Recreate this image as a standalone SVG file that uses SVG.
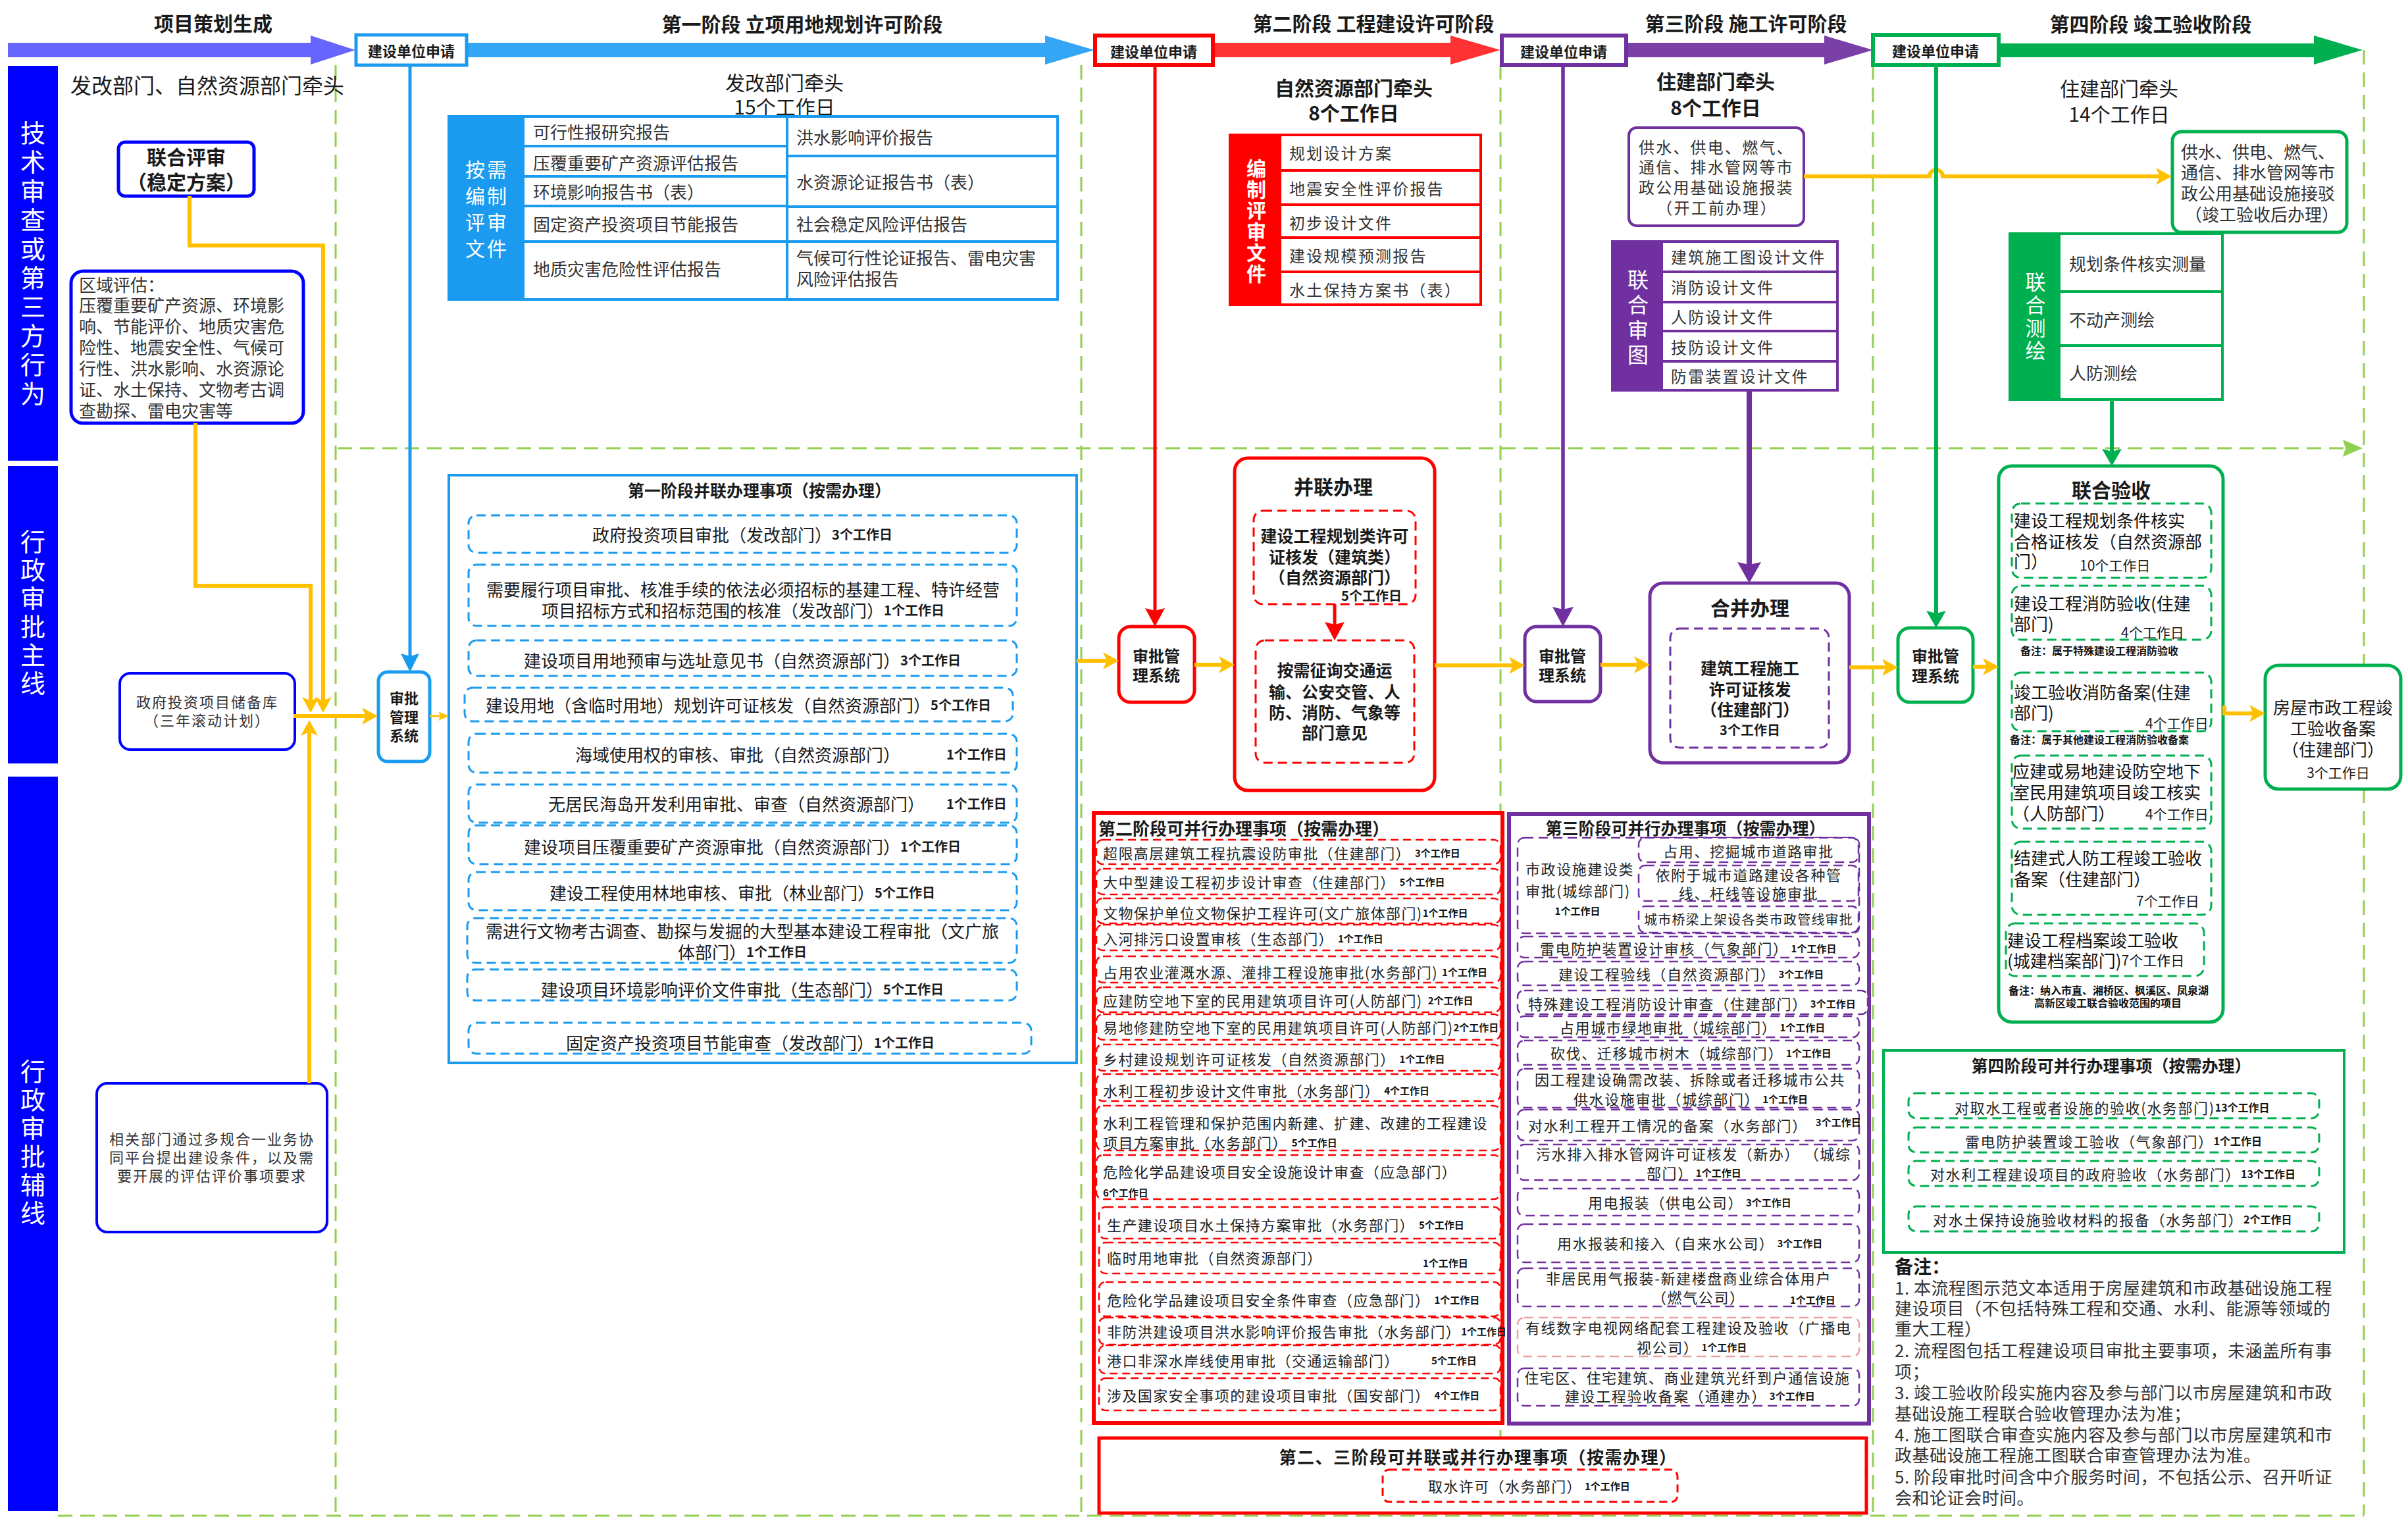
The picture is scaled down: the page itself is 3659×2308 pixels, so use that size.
<svg xmlns="http://www.w3.org/2000/svg" width="3659" height="2308" viewBox="0 0 3659 2308">
<style>
text{font-family:"Noto Sans CJK SC","Noto Sans",sans-serif;dominant-baseline:central;fill:#1a1a1a}
.c{text-anchor:middle}
.hb{font-size:30px;font-weight:700}
.hn{font-size:30px}
.vt{fill:#fff;text-anchor:start;writing-mode:vertical-rl;text-orientation:upright}
.band{font-size:38px}
.wl{fill:#fff;text-anchor:middle}
.lane{fill:none;stroke:#92D050;stroke-width:3;stroke-dasharray:22 12}
.or{fill:none;stroke:#FFC000;stroke-width:6}
.i1{font-size:26px;fill:#1a1a1a}
.d1{font-size:20px;font-weight:700}
.i2{font-size:22px;letter-spacing:1.4px;fill:#222}
.i3{font-size:22px;letter-spacing:1.6px;fill:#222}
.ds{font-size:15px;font-weight:700;letter-spacing:0;fill:#111}
.dm{font-size:16px;font-weight:700;letter-spacing:0;fill:#111}
.tb{font-size:26px;fill:#333}
.tr{font-size:24px;letter-spacing:2.2px;fill:#333}
.ttl{font-size:25px;font-weight:700}
.app{font-size:22px;font-weight:700}
.bl{stroke:#1A9BF0}
.rd{stroke:#FF0000}
.pu{stroke:#7030A0}
.gr{stroke:#00B050}
.dash1{fill:#fff;stroke:#1A9BF0;stroke-width:3;stroke-dasharray:14 8}
.dash2{fill:#fff;stroke:#FF0000;stroke-width:2.5;stroke-dasharray:12 7}
.dash3{fill:#fff;stroke:#7030A0;stroke-width:2.5;stroke-dasharray:14 8}
.dash4{fill:#fff;stroke:#00B050;stroke-width:3;stroke-dasharray:14 8}
.note{font-size:26px;fill:#333;letter-spacing:0.5px}
</style>
<defs>
<marker id="mo" markerUnits="userSpaceOnUse" markerWidth="24" markerHeight="26" refX="16" refY="13" orient="auto"><path d="M0,0 L24,13 L0,26 L6,13 z" fill="#FFC000"/></marker>
<marker id="mos" markerUnits="userSpaceOnUse" markerWidth="16" markerHeight="14" refX="10" refY="7" orient="auto"><path d="M0,0 L16,7 L0,14 L4,7 z" fill="#FFC000"/></marker>
<marker id="mr" markerUnits="userSpaceOnUse" markerWidth="28" markerHeight="30" refX="18" refY="15" orient="auto"><path d="M0,0 L28,15 L0,30 L4,15 z" fill="#FF0000"/></marker>
<marker id="mp" markerUnits="userSpaceOnUse" markerWidth="30" markerHeight="32" refX="20" refY="16" orient="auto"><path d="M0,0 L30,16 L0,32 L4,16 z" fill="#7030A0"/></marker>
<marker id="mpb" markerUnits="userSpaceOnUse" markerWidth="32" markerHeight="36" refX="20" refY="18" orient="auto"><path d="M0,0 L32,18 L0,36 L4,18 z" fill="#7030A0"/></marker>
<marker id="mg" markerUnits="userSpaceOnUse" markerWidth="26" markerHeight="30" refX="16" refY="15" orient="auto"><path d="M0,0 L26,15 L0,30 L4,15 z" fill="#00B050"/></marker>
<marker id="mb" markerUnits="userSpaceOnUse" markerWidth="28" markerHeight="28" refX="18" refY="14" orient="auto"><path d="M0,0 L28,14 L0,28 L4,14 z" fill="#1A9BF0"/></marker>
<marker id="mlg" markerUnits="userSpaceOnUse" markerWidth="30" markerHeight="26" refX="20" refY="13" orient="auto"><path d="M0,0 L30,13 L0,26 L4,13 z" fill="#92D050"/></marker>
</defs>
<rect x="0" y="0" width="3659" height="2308" fill="#fff"/>

<g id="lanes">
<line class="lane" x1="510" y1="99" x2="510" y2="2302"/>
<line class="lane" x1="1643" y1="99" x2="1643" y2="2302"/>
<line class="lane" x1="2280" y1="99" x2="2280" y2="2302"/>
<line class="lane" x1="2846" y1="99" x2="2846" y2="2302"/>
<line class="lane" x1="3592" y1="76" x2="3592" y2="2302"/>
<line class="lane" x1="88" y1="2303" x2="3592" y2="2303"/>
<line class="lane" x1="513" y1="681" x2="3580" y2="681" marker-end="url(#mlg)"/>
</g>

<g id="bands">
<rect x="12" y="100" width="76" height="600" fill="#0000FF"/>
<rect x="12" y="708" width="76" height="452" fill="#0000FF"/>
<rect x="12" y="1180" width="76" height="1116" fill="#0000FF"/>
<text class="vt band" writing-mode="vertical-rl" x="50" y="183" style="letter-spacing:6px">技术审查或第三方行为</text>
<text class="vt band" writing-mode="vertical-rl" x="50" y="804" style="letter-spacing:5px">行政审批主线</text>
<text class="vt band" writing-mode="vertical-rl" x="50" y="1609" style="letter-spacing:5px">行政审批辅线</text>
</g>

<g id="header">
<polygon points="12,65 472,65 472,54 540,76 472,98 472,87 12,87" fill="#6666FF"/>
<text class="hb c" x="324" y="34">项目策划生成</text>
<polygon points="709,65 1588,65 1588,54 1663,76 1588,98 1588,87 709,87" fill="#35A6F5"/>
<text class="hb c" x="1219" y="35">第一阶段  立项用地规划许可阶段</text>
<polygon points="1843,65 2204,65 2204,54 2280,76 2204,98 2204,87 1843,87" fill="#FF3333"/>
<text class="hb c" x="2087" y="34">第二阶段  工程建设许可阶段</text>
<polygon points="2471,65 2772,65 2772,54 2846,76 2772,98 2772,87 2471,87" fill="#7B3FA8"/>
<text class="hb c" x="2653" y="34">第三阶段  施工许可阶段</text>
<polygon points="3037,66 3516,66 3516,54 3590,76 3516,98 3516,87 3037,87" fill="#00B050"/>
<text class="hb c" x="3268" y="35">第四阶段  竣工验收阶段</text>
</g>

<g id="apply1"><rect x="541" y="53" width="168" height="46" fill="#fff" class="bl" stroke-width="5"/><text class="app c" x="625" y="76">建设单位申请</text></g>
<g id="apply2"><rect x="1664" y="54" width="179" height="45" fill="#fff" class="rd" stroke-width="6"/><text class="app c" x="1753" y="77">建设单位申请</text></g>
<g id="apply3"><rect x="2282" y="54" width="189" height="45" fill="#fff" class="pu" stroke-width="6"/><text class="app c" x="2376" y="77">建设单位申请</text></g>
<g id="apply4"><rect x="2846" y="53" width="191" height="46" fill="#fff" class="gr" stroke-width="6"/><text class="app c" x="2941" y="76">建设单位申请</text></g>

<g id="lead0"><text x="107" y="128" style="font-size:32px">发改部门、自然资源部门牵头</text></g>
<g id="lead1"><text class="hn c" x="1192" y="124">发改部门牵头</text><text class="hn c" x="1192" y="161">15个工作日</text></g>
<g id="lead2"><text class="hb c" x="2057" y="132">自然资源部门牵头</text><text class="hb c" x="2057" y="170">8个工作日</text></g>
<g id="lead3"><text class="hb c" x="2607" y="122">住建部门牵头</text><text class="hb c" x="2607" y="162">8个工作日</text></g>
<g id="lead4"><text class="hn c" x="3220" y="133">住建部门牵头</text><text class="hn c" x="3220" y="172">14个工作日</text></g>

<g id="joint-review">
<rect x="180" y="216" width="206" height="82" rx="10" fill="#fff" stroke="#0000FF" stroke-width="5"/>
<text class="c" x="283" y="237" style="font-size:30px;font-weight:700">联合评审</text>
<text class="c" x="283" y="275" style="font-size:30px;font-weight:700">（稳定方案）</text>
</g>
<g id="regional-eval">
<rect x="108" y="412" width="353" height="231" rx="18" fill="#fff" stroke="#0000FF" stroke-width="5"/>
<text class="tb" x="120" y="431">区域评估：</text>
<text class="tb" x="120" y="462">压覆重要矿产资源、环境影</text>
<text class="tb" x="120" y="494">响、节能评价、地质灾害危</text>
<text class="tb" x="120" y="526">险性、地震安全性、气候可</text>
<text class="tb" x="120" y="558">行性、洪水影响、水资源论</text>
<text class="tb" x="120" y="590">证、水土保持、文物考古调</text>
<text class="tb" x="120" y="622">查勘探、雷电灾害等</text>
</g>
<g id="gov-invest-lib">
<rect x="182" y="1023" width="266" height="116" rx="16" fill="#fff" stroke="#0000FF" stroke-width="4"/>
<text class="c" x="315" y="1065" style="font-size:22px;letter-spacing:2px;fill:#333">政府投资项目储备库</text>
<text class="c" x="315" y="1093" style="font-size:22px;letter-spacing:2px;fill:#333">（三年滚动计划）</text>
</g>
<g id="multi-plan">
<rect x="147" y="1646" width="350" height="226" rx="16" fill="#fff" stroke="#0000FF" stroke-width="4"/>
<text class="c" x="322" y="1729" style="font-size:22px;letter-spacing:2px;fill:#333">相关部门通过多规合一业务协</text>
<text class="c" x="322" y="1757" style="font-size:22px;letter-spacing:2px;fill:#333">同平台提出建设条件，以及需</text>
<text class="c" x="322" y="1785" style="font-size:22px;letter-spacing:2px;fill:#333">要开展的评估评价事项要求</text>
</g>

<g id="sys1">
<rect x="575" y="1021" width="78" height="136" rx="14" fill="#fff" class="bl" stroke-width="5"/>
<text class="c" x="614" y="1059" style="font-size:22px;font-weight:700">审批</text>
<text class="c" x="614" y="1088" style="font-size:22px;font-weight:700">管理</text>
<text class="c" x="614" y="1116" style="font-size:22px;font-weight:700">系统</text>
</g>

<g id="p1-docs">
<rect x="682" y="177" width="925" height="278" fill="#fff" class="bl" stroke-width="4"/>
<rect x="682" y="177" width="115" height="278" fill="#1A9BF0"/>
<text class="wl" x="740" y="256" style="font-size:30px;letter-spacing:3px">按需</text>
<text class="wl" x="740" y="296" style="font-size:30px;letter-spacing:3px">编制</text>
<text class="wl" x="740" y="336" style="font-size:30px;letter-spacing:3px">评审</text>
<text class="wl" x="740" y="376" style="font-size:30px;letter-spacing:3px">文件</text>
<g class="bl" stroke-width="4">
<line x1="1196" y1="177" x2="1196" y2="455"/>
<line x1="797" y1="222" x2="1196" y2="222"/>
<line x1="797" y1="268" x2="1196" y2="268"/>
<line x1="797" y1="313" x2="1196" y2="313"/>
<line x1="797" y1="367" x2="1196" y2="367"/>
<line x1="1196" y1="237" x2="1607" y2="237"/>
<line x1="1196" y1="314" x2="1607" y2="314"/>
<line x1="1196" y1="367" x2="1607" y2="367"/>
</g>
<text class="tb" x="810" y="199">可行性报研究报告</text>
<text class="tb" x="810" y="246">压覆重要矿产资源评估报告</text>
<text class="tb" x="810" y="290">环境影响报告书（表）</text>
<text class="tb" x="810" y="339">固定资产投资项目节能报告</text>
<text class="tb" x="810" y="407">地质灾害危险性评估报告</text>
<text class="tb" x="1210" y="207">洪水影响评价报告</text>
<text class="tb" x="1210" y="275">水资源论证报告书（表）</text>
<text class="tb" x="1210" y="339">社会稳定风险评估报告</text>
<text class="tb" x="1210" y="390">气候可行性论证报告、雷电灾害</text>
<text class="tb" x="1210" y="422">风险评估报告</text>
</g>

<g id="p1-parallel">
<rect x="682" y="722" width="954" height="893" fill="#fff" class="bl" stroke-width="4"/>
<text class="ttl c" x="1154" y="744">第一阶段并联办理事项（按需办理）</text>
<rect class="dash1" x="712" y="783" width="833" height="57" rx="12"/>
<text class="i1 c" x="1128" y="811">政府投资项目审批（发改部门）<tspan class="d1">3个工作日</tspan></text>
<rect class="dash1" x="712" y="858" width="833" height="93" rx="12"/>
<text class="i1 c" x="1129" y="894">需要履行项目审批、核准手续的依法必须招标的基建工程、特许经营</text>
<text class="i1 c" x="1129" y="926">项目招标方式和招标范围的核准（发改部门）<tspan class="d1">1个工作日</tspan></text>
<rect class="dash1" x="712" y="973" width="833" height="54" rx="12"/>
<text class="i1 c" x="1128" y="1002">建设项目用地预审与选址意见书（自然资源部门）<tspan class="d1">3个工作日</tspan></text>
<rect class="dash1" x="706" y="1045" width="833" height="51" rx="12"/>
<text class="i1 c" x="1122" y="1070">建设用地（含临时用地）规划许可证核发（自然资源部门）<tspan class="d1">5个工作日</tspan></text>
<rect class="dash1" x="712" y="1115" width="833" height="59" rx="12"/>
<text class="i1" x="874" y="1145">海域使用权的审核、审批（自然资源部门）</text>
<text class="d1" x="1438" y="1145">1个工作日</text>
<rect class="dash1" x="712" y="1192" width="833" height="58" rx="12"/>
<text class="i1" x="833" y="1220">无居民海岛开发利用审批、审查（自然资源部门）</text>
<text class="d1" x="1438" y="1220">1个工作日</text>
<rect class="dash1" x="712" y="1254" width="833" height="59" rx="12"/>
<text class="i1 c" x="1128" y="1285">建设项目压覆重要矿产资源审批（自然资源部门）<tspan class="d1">1个工作日</tspan></text>
<rect class="dash1" x="712" y="1325" width="833" height="58" rx="12"/>
<text class="i1 c" x="1128" y="1355">建设工程使用林地审核、审批（林业部门）<tspan class="d1">5个工作日</tspan></text>
<rect class="dash1" x="710" y="1395" width="835" height="68" rx="12"/>
<text class="i1 c" x="1128" y="1413">需进行文物考古调查、勘探与发掘的大型基本建设工程审批（文广旅</text>
<text class="i1 c" x="1128" y="1445">体部门）<tspan class="d1">1个工作日</tspan></text>
<rect class="dash1" x="710" y="1473" width="835" height="47" rx="12"/>
<text class="i1 c" x="1128" y="1502">建设项目环境影响评价文件审批（生态部门）<tspan class="d1">5个工作日</tspan></text>
<rect class="dash1" x="712" y="1554" width="855" height="47" rx="12"/>
<text class="i1 c" x="1140" y="1583">固定资产投资项目节能审查（发改部门）<tspan class="d1">1个工作日</tspan></text>
</g>

<g id="p2-docs">
<rect x="1869" y="205" width="381" height="258" fill="#fff" class="rd" stroke-width="4"/>
<rect x="1869" y="205" width="78" height="258" fill="#FF0000"/>
<text class="vt" writing-mode="vertical-rl" x="1909" y="241" style="font-size:30px;font-weight:700;letter-spacing:2px">编制评审文件</text>
<g class="rd" stroke-width="4">
<line x1="1947" y1="259" x2="2250" y2="259"/>
<line x1="1947" y1="311" x2="2250" y2="311"/>
<line x1="1947" y1="361" x2="2250" y2="361"/>
<line x1="1947" y1="413" x2="2250" y2="413"/>
</g>
<text class="tr" x="1959" y="231">规划设计方案</text>
<text class="tr" x="1959" y="285">地震安全性评价报告</text>
<text class="tr" x="1959" y="337">初步设计文件</text>
<text class="tr" x="1959" y="387">建设规模预测报告</text>
<text class="tr" x="1959" y="439">水土保持方案书（表）</text>
</g>

<g id="sys2">
<rect x="1700" y="952" width="115" height="115" rx="18" fill="#fff" class="rd" stroke-width="5"/>
<text class="c" x="1757" y="995" style="font-size:24px;font-weight:700">审批管</text>
<text class="c" x="1757" y="1024" style="font-size:24px;font-weight:700">理系统</text>
</g>

<g id="p2-joint">
<rect x="1876" y="696" width="304" height="505" rx="20" fill="#fff" class="rd" stroke-width="5"/>
<text class="c" x="2026" y="738" style="font-size:30px;font-weight:700">并联办理</text>
<rect x="1905" y="776" width="246" height="142" rx="14" fill="#fff" stroke="#FF0000" stroke-width="3" stroke-dasharray="14 8"/>
<text class="c" x="2028" y="813" style="font-size:25px;font-weight:700">建设工程规划类许可</text>
<text class="c" x="2028" y="845" style="font-size:25px;font-weight:700">证核发（建筑类）</text>
<text class="c" x="2028" y="876" style="font-size:25px;font-weight:700">（自然资源部门）</text>
<text class="c d1" x="2084" y="904">5个工作日</text>
<rect x="1908" y="973" width="241" height="186" rx="14" fill="#fff" stroke="#FF0000" stroke-width="3" stroke-dasharray="14 8"/>
<text class="c" x="2028" y="1017" style="font-size:25px;font-weight:700">按需征询交通运</text>
<text class="c" x="2028" y="1050" style="font-size:25px;font-weight:700">输、公安交管、人</text>
<text class="c" x="2028" y="1081" style="font-size:25px;font-weight:700">防、消防、气象等</text>
<text class="c" x="2028" y="1112" style="font-size:25px;font-weight:700">部门意见</text>
</g>

<g id="p2-parallel">
<rect x="1662" y="1235" width="621" height="927" fill="#fff" class="rd" stroke-width="6"/>
<text x="1669" y="1257" style="font-size:26px;font-weight:700">第二阶段可并行办理事项（按需办理）</text>
<rect class="dash2" x="1666" y="1276" width="614" height="37" rx="10"/>
<text class="i2" x="1676" y="1295">超限高层建筑工程抗震设防审批（住建部门）<tspan class="ds" dx="6">3个工作日</tspan></text>
<rect class="dash2" x="1666" y="1320" width="614" height="39" rx="10"/>
<text class="i2" x="1676" y="1339">大中型建设工程初步设计审查（住建部门）<tspan class="ds" dx="6">5个工作日</tspan></text>
<rect class="dash2" x="1666" y="1365" width="614" height="38" rx="10"/>
<text class="i2" x="1676" y="1386">文物保护单位文物保护工程许可(文广旅体部门)<tspan class="ds">1个工作日</tspan></text>
<rect class="dash2" x="1666" y="1405" width="614" height="39" rx="10"/>
<text class="i2" x="1676" y="1425">入河排污口设置审核（生态部门）<tspan class="ds" dx="6">1个工作日</tspan></text>
<rect class="dash2" x="1666" y="1453" width="614" height="40" rx="10"/>
<text class="i2" x="1676" y="1476">占用农业灌溉水源、灌排工程设施审批(水务部门)<tspan class="ds" dx="6">1个工作日</tspan></text>
<rect class="dash2" x="1666" y="1500" width="614" height="38" rx="10"/>
<text class="i2" x="1676" y="1519">应建防空地下室的民用建筑项目许可(人防部门)<tspan class="ds" dx="8">2个工作日</tspan></text>
<rect class="dash2" x="1666" y="1541" width="614" height="39" rx="10"/>
<text class="i2" x="1676" y="1560">易地修建防空地下室的民用建筑项目许可(人防部门)<tspan class="ds">2个工作日</tspan></text>
<rect class="dash2" x="1666" y="1587" width="614" height="40" rx="10"/>
<text class="i2" x="1676" y="1608">乡村建设规划许可证核发（自然资源部门）<tspan class="ds" dx="6">1个工作日</tspan></text>
<rect class="dash2" x="1666" y="1632" width="614" height="41" rx="10"/>
<text class="i2" x="1676" y="1656">水利工程初步设计文件审批（水务部门）<tspan class="ds" dx="6">4个工作日</tspan></text>
<rect class="dash2" x="1666" y="1680" width="614" height="68" rx="10"/>
<text class="i2" x="1676" y="1705">水利工程管理和保护范围内新建、扩建、改建的工程建设</text>
<text class="i2" x="1676" y="1735">项目方案审批（水务部门）<tspan class="ds" dx="6">5个工作日</tspan></text>
<rect class="dash2" x="1666" y="1755" width="614" height="67" rx="10"/>
<text class="i2" x="1676" y="1779">危险化学品建设项目安全设施设计审查（应急部门）</text>
<text class="ds" x="1676" y="1811">6个工作日</text>
<rect class="dash2" x="1670" y="1834" width="610" height="48" rx="10"/>
<text class="i2" x="1682" y="1860">生产建设项目水土保持方案审批（水务部门）<tspan class="ds" dx="6">5个工作日</tspan></text>
<rect class="dash2" x="1670" y="1888" width="610" height="47" rx="10"/>
<text class="i2" x="1682" y="1910">临时用地审批（自然资源部门）</text>
<text class="ds" x="2162" y="1918">1个工作日</text>
<rect class="dash2" x="1670" y="1948" width="610" height="52" rx="10"/>
<text class="i2" x="1682" y="1974">危险化学品建设项目安全条件审查（应急部门）<tspan class="ds" dx="6">1个工作日</tspan></text>
<rect class="dash2" x="1670" y="2002" width="610" height="41" rx="10"/>
<text class="i2" x="1682" y="2022">非防洪建设项目洪水影响评价报告审批（水务部门）<tspan class="ds">1个工作日</tspan></text>
<rect class="dash2" x="1670" y="2044" width="610" height="43" rx="10"/>
<text class="i2" x="1682" y="2066">港口非深水岸线使用审批（交通运输部门）</text>
<text class="ds" x="2175" y="2066">5个工作日</text>
<rect class="dash2" x="1670" y="2094" width="610" height="49" rx="10"/>
<text class="i2" x="1682" y="2119">涉及国家安全事项的建设项目审批（国安部门）<tspan class="ds" dx="6">4个工作日</tspan></text>
</g>

<g id="p23-parallel">
<rect x="1670" y="2185" width="1166" height="114" fill="#fff" class="rd" stroke-width="5"/>
<text class="c" x="2246" y="2212" style="font-size:26px;font-weight:700;letter-spacing:1.5px">第二、三阶段可并联或并行办理事项（按需办理）</text>
<rect x="2101" y="2233" width="448" height="49" rx="10" fill="#fff" stroke="#FF0000" stroke-width="3" stroke-dasharray="12 7"/>
<text class="i2" x="2170" y="2257">取水许可（水务部门）<tspan class="ds" dx="4">1个工作日</tspan></text>
</g>

<g id="p3-utility">
<rect x="2475" y="194" width="266" height="149" rx="12" fill="#fff" class="pu" stroke-width="4"/>
<text class="tr" x="2490" y="222">供水、供电、燃气、</text>
<text class="tr" x="2490" y="252">通信、排水管网等市</text>
<text class="tr" x="2490" y="283">政公用基础设施报装</text>
<text class="tr c" x="2609" y="314">（开工前办理）</text>
</g>

<g id="p3-docs">
<rect x="2450" y="367" width="342" height="226" fill="#fff" class="pu" stroke-width="4"/>
<rect x="2450" y="367" width="77" height="226" fill="#7030A0"/>
<text class="vt" writing-mode="vertical-rl" x="2489" y="409" style="font-size:32px;letter-spacing:6px">联合审图</text>
<g class="pu" stroke-width="4">
<line x1="2527" y1="413" x2="2792" y2="413"/>
<line x1="2527" y1="459" x2="2792" y2="459"/>
<line x1="2527" y1="503" x2="2792" y2="503"/>
<line x1="2527" y1="549" x2="2792" y2="549"/>
</g>
<text class="tr" x="2539" y="389">建筑施工图设计文件</text>
<text class="tr" x="2539" y="435">消防设计文件</text>
<text class="tr" x="2539" y="480">人防设计文件</text>
<text class="tr" x="2539" y="526">技防设计文件</text>
<text class="tr" x="2539" y="570">防雷装置设计文件</text>
</g>

<g id="sys3">
<rect x="2317" y="952" width="115" height="114" rx="18" fill="#fff" class="pu" stroke-width="5"/>
<text class="c" x="2374" y="995" style="font-size:24px;font-weight:700">审批管</text>
<text class="c" x="2374" y="1024" style="font-size:24px;font-weight:700">理系统</text>
</g>

<g id="p3-merge">
<rect x="2507" y="886" width="303" height="273" rx="20" fill="#fff" class="pu" stroke-width="5"/>
<text class="c" x="2659" y="922" style="font-size:30px;font-weight:700">合并办理</text>
<rect x="2538" y="955" width="241" height="181" rx="14" fill="#fff" stroke="#7030A0" stroke-width="3" stroke-dasharray="14 8"/>
<text class="c" x="2659" y="1014" style="font-size:25px;font-weight:700">建筑工程施工</text>
<text class="c" x="2659" y="1046" style="font-size:25px;font-weight:700">许可证核发</text>
<text class="c" x="2659" y="1077" style="font-size:25px;font-weight:700">（住建部门）</text>
<text class="c d1" x="2659" y="1108">3个工作日</text>
</g>

<g id="p3-parallel">
<rect x="2293" y="1237" width="547" height="926" fill="#fff" class="pu" stroke-width="6"/>
<text class="ttl c" x="2561" y="1257">第三阶段可并行办理事项（按需办理）</text>
<rect class="dash3" x="2306" y="1273" width="519" height="145" rx="10"/>
<text class="i3" x="2318" y="1319">市政设施建设类</text>
<text class="i3" x="2318" y="1352">审批(城综部门)</text>
<text class="ds c" x="2397" y="1383">1个工作日</text>
<rect class="dash3" x="2490" y="1273" width="334" height="37" rx="10"/>
<text class="i3 c" x="2657" y="1292">占用、挖掘城市道路审批</text>
<rect class="dash3" x="2490" y="1315" width="334" height="54" rx="10"/>
<text class="i3 c" x="2657" y="1328">依附于城市道路建设各种管</text>
<text class="i3 c" x="2657" y="1356">线、杆线等设施审批</text>
<rect class="dash3" x="2490" y="1377" width="334" height="40" rx="10"/>
<text class="c" x="2657" y="1396" style="font-size:20px;letter-spacing:1.2px;fill:#222">城市桥梁上架设各类市政管线审批</text>
<rect class="dash3" x="2306" y="1423" width="519" height="32" rx="10"/>
<text class="i3" x="2340" y="1440">雷电防护装置设计审核（气象部门）<tspan class="ds" dx="4">1个工作日</tspan></text>
<rect class="dash3" x="2306" y="1461" width="519" height="36" rx="10"/>
<text class="i3" x="2368" y="1479">建设工程验线（自然资源部门）<tspan class="ds" dx="4">3个工作日</tspan></text>
<rect class="dash3" x="2306" y="1505" width="532" height="36" rx="10"/>
<text class="i3" x="2322" y="1524">特殊建设工程消防设计审查（住建部门）<tspan class="ds" dx="4">3个工作日</tspan></text>
<rect class="dash3" x="2306" y="1544" width="519" height="32" rx="10"/>
<text class="i3" x="2370" y="1560">占用城市绿地审批（城综部门）<tspan class="ds" dx="4">1个工作日</tspan></text>
<rect class="dash3" x="2306" y="1581" width="519" height="37" rx="10"/>
<text class="i3" x="2356" y="1599">砍伐、迁移城市树木（城综部门）<tspan class="ds" dx="4">1个工作日</tspan></text>
<rect class="dash3" x="2306" y="1624" width="519" height="59" rx="10"/>
<text class="i3" x="2332" y="1639">因工程建设确需改装、拆除或者迁移城市公共</text>
<text class="i3" x="2391" y="1669">供水设施审批（城综部门）<tspan class="ds" dx="4">1个工作日</tspan></text>
<rect class="dash3" x="2306" y="1686" width="519" height="47" rx="10"/>
<text class="i3" x="2322" y="1709">对水利工程开工情况的备案（水务部门）<tspan class="ds" dx="12" dy="-5">3个工作日</tspan></text>
<rect class="dash3" x="2306" y="1739" width="519" height="54" rx="10"/>
<text class="i3" x="2334" y="1752">污水排入排水管网许可证核发（新办） （城综</text>
<text class="i3" x="2502" y="1781">部门）<tspan class="ds" dx="4">1个工作日</tspan></text>
<rect class="dash3" x="2306" y="1806" width="519" height="41" rx="10"/>
<text class="i3" x="2413" y="1826">用电报装（供电公司）<tspan class="ds" dx="4">3个工作日</tspan></text>
<rect class="dash3" x="2306" y="1860" width="519" height="58" rx="10"/>
<text class="i3" x="2366" y="1888">用水报装和接入（自来水公司）<tspan class="ds" dx="4">3个工作日</tspan></text>
<rect class="dash3" x="2306" y="1927" width="519" height="58" rx="10"/>
<text class="i3" x="2349" y="1941">非居民用气报装-新建楼盘商业综合体用户</text>
<text class="i3" x="2510" y="1970">（燃气公司）</text>
<text class="ds" x="2720" y="1974">1个工作日</text>
<rect x="2306" y="2002" width="519" height="59" rx="10" fill="#fff" stroke="#E8A0A0" stroke-width="2.5" stroke-dasharray="14 8"/>
<text class="i3" x="2318" y="2016">有线数字电视网络配套工程建设及验收（广播电</text>
<text class="i3" x="2487" y="2046">视公司）<tspan class="ds" dx="4">1个工作日</tspan></text>
<rect class="dash3" x="2306" y="2079" width="519" height="57" rx="10"/>
<text class="i3" x="2316" y="2092">住宅区、住宅建筑、商业建筑光纤到户通信设施</text>
<text class="i3" x="2378" y="2120">建设工程验收备案（通建办）<tspan class="ds" dx="4">3个工作日</tspan></text>
</g>

<g id="p4-utility">
<rect x="3301" y="200" width="265" height="153" rx="14" fill="#fff" class="gr" stroke-width="5"/>
<text class="tb" x="3314" y="229">供水、供电、燃气、</text>
<text class="tb" x="3314" y="260">通信、排水管网等市</text>
<text class="tb" x="3314" y="292">政公用基础设施接驳</text>
<text class="tb" x="3320" y="324">（竣工验收后办理）</text>
</g>

<g id="p4-survey">
<rect x="3054" y="355" width="323" height="252" fill="#fff" class="gr" stroke-width="4"/>
<rect x="3054" y="355" width="77" height="252" fill="#00B050"/>
<text class="vt" writing-mode="vertical-rl" x="3093" y="413" style="font-size:31px;letter-spacing:3.7px">联合测绘</text>
<g class="gr" stroke-width="4">
<line x1="3131" y1="443" x2="3377" y2="443"/>
<line x1="3131" y1="525" x2="3377" y2="525"/>
</g>
<text class="tb" x="3144" y="399">规划条件核实测量</text>
<text class="tb" x="3144" y="484">不动产测绘</text>
<text class="tb" x="3144" y="565">人防测绘</text>
</g>

<g id="sys4">
<rect x="2884" y="954" width="114" height="113" rx="18" fill="#fff" class="gr" stroke-width="5"/>
<text class="c" x="2941" y="995" style="font-size:24px;font-weight:700">审批管</text>
<text class="c" x="2941" y="1025" style="font-size:24px;font-weight:700">理系统</text>
</g>

<g id="p4-joint">
<rect x="3037" y="708" width="341" height="845" rx="20" fill="#fff" class="gr" stroke-width="5"/>
<text class="c" x="3208" y="743" style="font-size:30px;font-weight:700">联合验收</text>
<rect class="dash4" x="3057" y="765" width="303" height="113" rx="14"/>
<text class="tb" x="3060" y="789" style="fill:#111">建设工程规划条件核实</text>
<text class="tb" x="3060" y="821" style="fill:#111">合格证核发（自然资源部</text>
<text class="tb" x="3060" y="851" style="fill:#111">门）</text>
<text x="3160" y="858" style="font-size:21px">10个工作日</text>
<rect class="dash4" x="3057" y="890" width="303" height="82" rx="14"/>
<text class="tb" x="3060" y="915" style="fill:#111">建设工程消防验收(住建</text>
<text class="tb" x="3060" y="946" style="fill:#111">部门)</text>
<text x="3223" y="960" style="font-size:21px">4个工作日</text>
<text class="dm" x="3070" y="988">备注：属于特殊建设工程消防验收</text>
<rect class="dash4" x="3057" y="1022" width="303" height="89" rx="14"/>
<text class="tb" x="3060" y="1050" style="fill:#111">竣工验收消防备案(住建</text>
<text class="tb" x="3060" y="1081" style="fill:#111">部门)</text>
<text x="3260" y="1098" style="font-size:21px">4个工作日</text>
<text class="dm" x="3054" y="1123">备注：属于其他建设工程消防验收备案</text>
<rect class="dash4" x="3057" y="1148" width="303" height="111" rx="14"/>
<text class="tb" x="3058" y="1170" style="fill:#111">应建或易地建设防空地下</text>
<text class="tb" x="3058" y="1202" style="fill:#111">室民用建筑项目竣工核实</text>
<text class="tb" x="3058" y="1234" style="fill:#111">（人防部门）</text>
<text x="3260" y="1236" style="font-size:21px">4个工作日</text>
<rect class="dash4" x="3057" y="1279" width="303" height="111" rx="14"/>
<text class="tb" x="3060" y="1302" style="fill:#111">结建式人防工程竣工验收</text>
<text class="tb" x="3060" y="1334" style="fill:#111">备案（住建部门）</text>
<text x="3246" y="1368" style="font-size:21px">7个工作日</text>
<rect class="dash4" x="3048" y="1403" width="301" height="80" rx="14"/>
<text class="tb" x="3050" y="1427" style="fill:#111">建设工程档案竣工验收</text>
<text class="tb" x="3050" y="1458" style="fill:#111">(城建档案部门)<tspan style="font-size:21px">7个工作日</tspan></text>
<text class="dm" x="3052" y="1504">备注：纳入市直、湘桥区、枫溪区、凤泉湖</text>
<text class="dm c" x="3203" y="1523">高新区竣工联合验收范围的项目</text>
</g>

<g id="p4-filing">
<rect x="3442" y="1011" width="206" height="188" rx="20" fill="#fff" class="gr" stroke-width="5"/>
<text class="c" x="3545" y="1073" style="font-size:26px">房屋市政工程竣</text>
<text class="c" x="3545" y="1105" style="font-size:26px">工验收备案</text>
<text class="c" x="3545" y="1137" style="font-size:26px">（住建部门）</text>
<text class="c" x="3553" y="1173" style="font-size:21px">3个工作日</text>
</g>

<g id="p4-parallel">
<rect x="2862" y="1596" width="700" height="307" fill="#fff" class="gr" stroke-width="4"/>
<text class="ttl c" x="3208" y="1618">第四阶段可并行办理事项（按需办理）</text>
<rect class="dash4" x="2900" y="1661" width="624" height="38" rx="12"/>
<text class="i3" x="2970" y="1682">对取水工程或者设施的验收(水务部门)<tspan class="dm">13个工作日</tspan></text>
<rect class="dash4" x="2900" y="1713" width="624" height="38" rx="12"/>
<text class="i3" x="2986" y="1733">雷电防护装置竣工验收（气象部门）<tspan class="dm">1个工作日</tspan></text>
<rect class="dash4" x="2900" y="1764" width="624" height="38" rx="12"/>
<text class="i3" x="2933" y="1783">对水利工程建设项目的政府验收（水务部门）<tspan class="dm">13个工作日</tspan></text>
<rect class="dash4" x="2900" y="1833" width="624" height="38" rx="12"/>
<text class="i3" x="2937" y="1852">对水土保持设施验收材料的报备（水务部门）<tspan class="dm">2个工作日</tspan></text>
</g>

<g id="notes">
<text x="2879" y="1923" style="font-size:28px;font-weight:700">备注：</text>
<text class="note" x="2879" y="1955">1. 本流程图示范文本适用于房屋建筑和市政基础设施工程</text>
<text class="note" x="2879" y="1986">建设项目（不包括特殊工程和交通、水利、能源等领域的</text>
<text class="note" x="2879" y="2017">重大工程）</text>
<text class="note" x="2879" y="2050">2. 流程图包括工程建设项目审批主要事项，未涵盖所有事</text>
<text class="note" x="2879" y="2082">项；</text>
<text class="note" x="2879" y="2114">3. 竣工验收阶段实施内容及参与部门以市房屋建筑和市政</text>
<text class="note" x="2879" y="2146">基础设施工程联合验收管理办法为准；</text>
<text class="note" x="2879" y="2178">4. 施工图联合审查实施内容及参与部门以市房屋建筑和市</text>
<text class="note" x="2879" y="2209">政基础设施工程施工图联合审查管理办法为准。</text>
<text class="note" x="2879" y="2242">5. 阶段审批时间含中介服务时间，不包括公示、召开听证</text>
<text class="note" x="2879" y="2274">会和论证会时间。</text>
</g>

<g id="connectors">
<path class="or" d="M288,298 V373 H491 V1075" marker-end="url(#mo)"/>
<path class="or" d="M297,643 V890 H472 V1075" marker-end="url(#mo)"/>
<path class="or" d="M470,1646 V1102" marker-end="url(#mo)"/>
<path class="or" d="M446,1088 H566" marker-end="url(#mo)"/>
<path d="M653,1088 H676" fill="none" stroke="#FFC000" stroke-width="3" marker-end="url(#mos)"/>
<path class="or" d="M1636,1004 H1692" marker-end="url(#mo)"/>
<path class="or" d="M1815,1010 H1868" marker-end="url(#mo)"/>
<path class="or" d="M2180,1011 H2309" marker-end="url(#mo)"/>
<path class="or" d="M2432,1010 H2499" marker-end="url(#mo)"/>
<path class="or" d="M2810,1014 H2876" marker-end="url(#mo)"/>
<path class="or" d="M2998,1013 H3029" marker-end="url(#mo)"/>
<path class="or" d="M3380,1072 V1084 H3434" marker-end="url(#mo)"/>
<path class="or" d="M2741,268 H2932 a10,10 0 0 1 20,0 H3292" marker-end="url(#mo)"/>
<path d="M623,99 V1011" fill="none" stroke="#1A9BF0" stroke-width="5" marker-end="url(#mb)"/>
<path d="M1755,99 V942" fill="none" stroke="#FF0000" stroke-width="5" marker-end="url(#mr)"/>
<path d="M2028,918 V963" fill="none" stroke="#FF0000" stroke-width="5" marker-end="url(#mr)"/>
<path d="M2375,99 V942" fill="none" stroke="#7030A0" stroke-width="5.5" marker-end="url(#mp)"/>
<path d="M2658,593 V874" fill="none" stroke="#7030A0" stroke-width="8" marker-end="url(#mpb)"/>
<path d="M2942,99 V944" fill="none" stroke="#00B050" stroke-width="6" marker-end="url(#mg)"/>
<path d="M3209,607 V698" fill="none" stroke="#00B050" stroke-width="6" marker-end="url(#mg)"/>
</g>
</svg>
